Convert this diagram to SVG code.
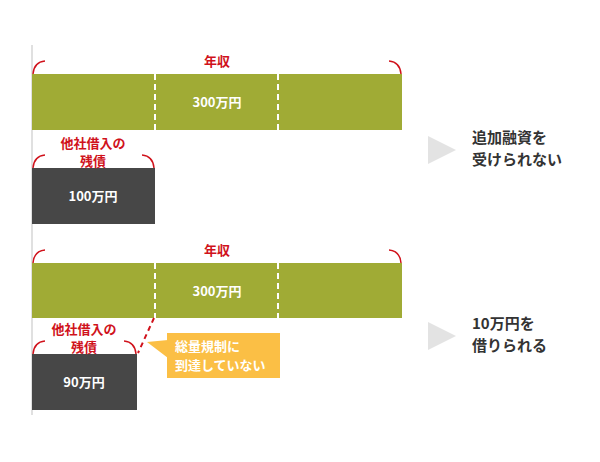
<svg xmlns="http://www.w3.org/2000/svg" width="600" height="462" viewBox="0 0 600 462">
<style>
text{font-family:"Noto Sans CJK JP","Noto Sans",sans-serif;font-weight:bold}
.r{fill:#d0121b;font-size:13px}
.w{fill:#fff;font-size:13px}
.k{fill:#333;font-size:15px}
.br{fill:none;stroke:#d0121b;stroke-width:1.5}
.dash{stroke:#fff;stroke-width:2;stroke-dasharray:6,4}
</style>
<rect width="600" height="462" fill="#fff"/>
<line x1="32" y1="45" x2="32" y2="415" stroke="#e0e0e0" stroke-width="2"/>
<g id="top-income">
<rect x="32" y="74" width="370" height="56" fill="#a0ab35"/>
<line class="dash" x1="155" y1="74" x2="155" y2="130"/>
<line class="dash" x1="278" y1="74" x2="278" y2="130"/>
<path class="br" d="M33,74 Q34,62 45,61 M389,61 Q400,62 401,74"/>
<text class="r" x="217" y="66" text-anchor="middle">年収</text>
<text class="w" x="217" y="107" text-anchor="middle">300万円</text>
</g>
<g id="top-debt">
<rect x="32" y="168" width="123" height="56" fill="#474747"/>
<path class="br" d="M33,168 Q34,156 45,155 M142,155 Q153,156 154,168"/>
<text class="r" x="93" y="148" text-anchor="middle">他社借入の</text>
<text class="r" x="93" y="166" text-anchor="middle">残債</text>
<text class="w" x="93" y="201" text-anchor="middle">100万円</text>
</g>
<g id="top-result">
<polygon points="428,136 456,150 428,164" fill="#e3e3e3"/>
<text class="k" x="472" y="143">追加融資を</text>
<text class="k" x="472" y="165">受けられない</text>
</g>
<g id="bottom-income">
<rect x="32" y="263" width="370" height="55" fill="#a0ab35"/>
<line class="dash" x1="155" y1="263" x2="155" y2="318"/>
<line class="dash" x1="278" y1="263" x2="278" y2="318"/>
<path class="br" d="M33,263 Q34,251 45,250 M389,250 Q400,251 401,263"/>
<text class="r" x="217" y="255" text-anchor="middle">年収</text>
<text class="w" x="217" y="296" text-anchor="middle">300万円</text>
</g>
<g id="bottom-debt">
<rect x="32" y="354" width="105" height="56" fill="#474747"/>
<path class="br" d="M33,354 Q34,342 45,341 M124,341 Q135,342 136,354"/>
<text class="r" x="84" y="334" text-anchor="middle">他社借入の</text>
<text class="r" x="84" y="352" text-anchor="middle">残債</text>
<text class="w" x="84" y="387" text-anchor="middle">90万円</text>
</g>
<g id="connectors">
<line x1="154" y1="318" x2="138" y2="353" stroke="#d0121b" stroke-width="2" stroke-dasharray="5,4"/>
</g>
<g id="callout">
<polygon points="147,342 168,340 168,358" fill="#fbbf45"/>
<rect x="167" y="333" width="113" height="45" fill="#fbbf45"/>
<text class="w" x="175" y="351">総量規制に</text>
<text class="w" x="175" y="370">到達していない</text>
</g>
<g id="bottom-result">
<polygon points="428,322 456,336 428,350" fill="#e3e3e3"/>
<text class="k" x="472" y="329">10万円を</text>
<text class="k" x="472" y="351">借りられる</text>
</g>
</svg>
